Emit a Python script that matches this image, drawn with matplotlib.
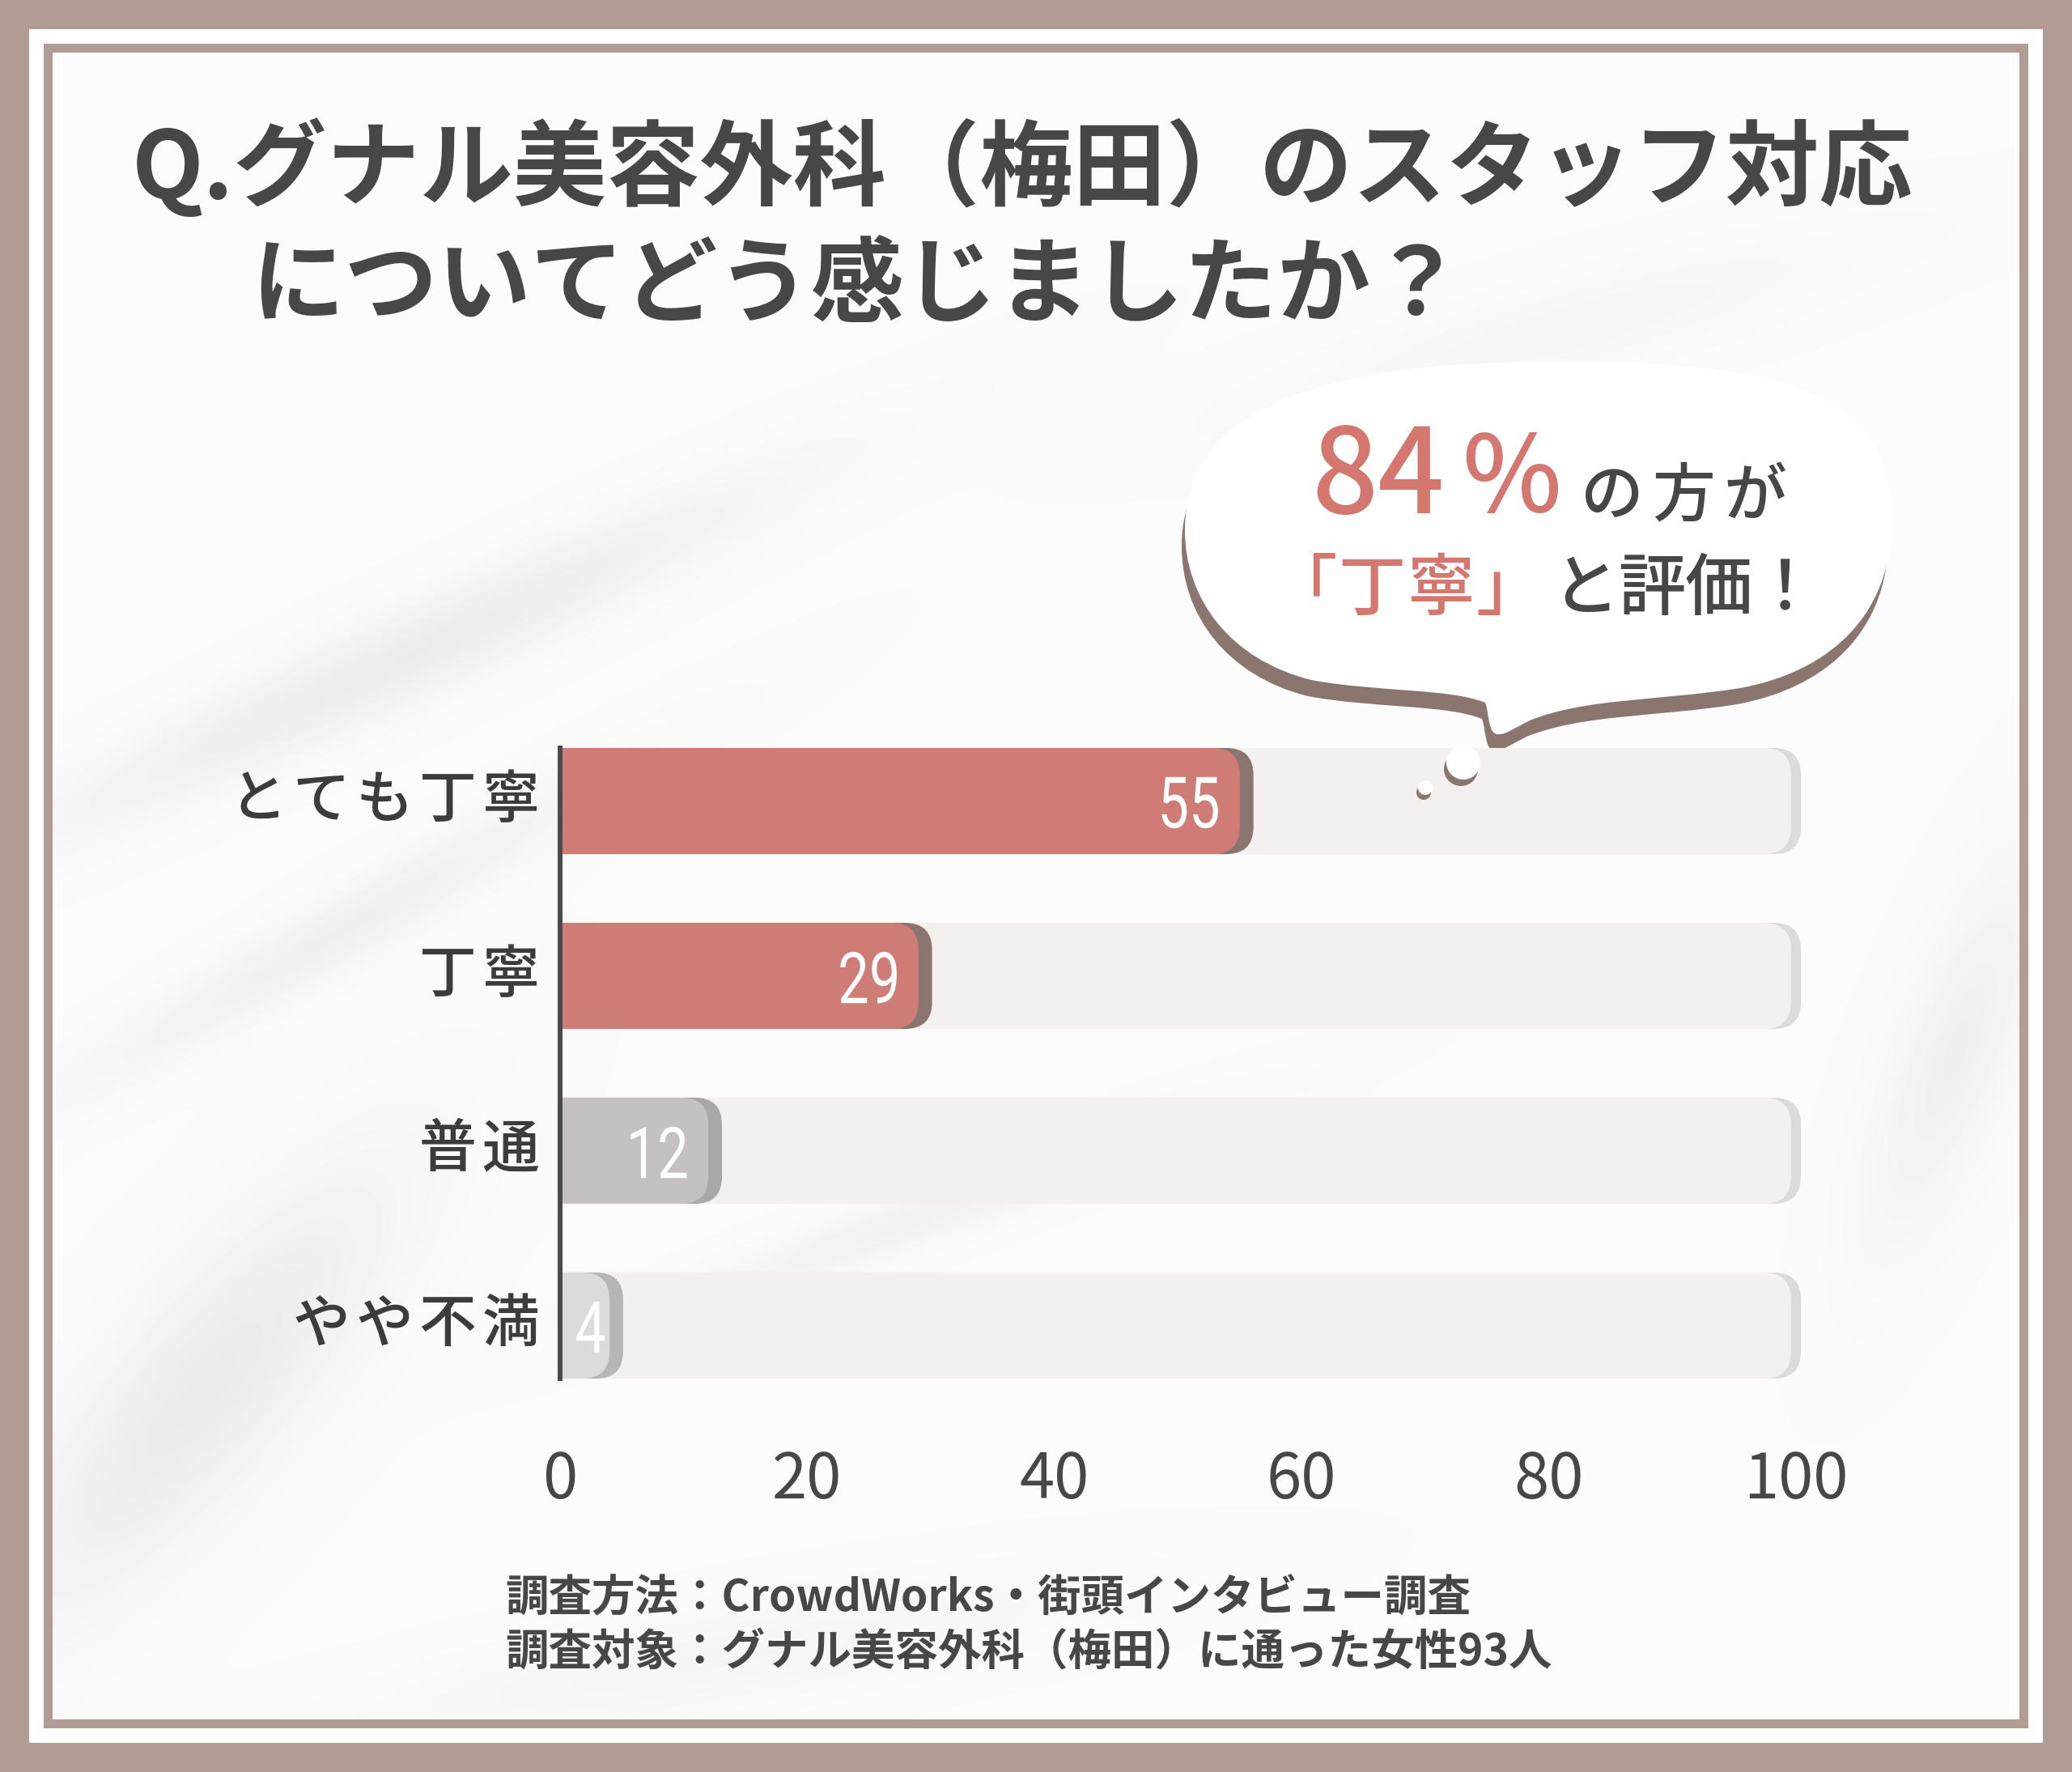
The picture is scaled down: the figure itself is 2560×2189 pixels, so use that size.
import matplotlib
matplotlib.use('Agg')
import numpy as np
import matplotlib.pyplot as plt
from matplotlib.patches import FancyBboxPatch, Rectangle, PathPatch, Circle
from matplotlib.path import Path
from matplotlib.textpath import TextPath
from matplotlib.font_manager import FontProperties
from matplotlib.transforms import Affine2D

plt.rcParams['font.family'] = ['Noto Sans CJK JP', 'DejaVu Sans']

# ---------------- data ----------------
categories = ['とても丁寧', '丁寧', '普通', 'やや不満']
values = [55, 29, 12, 4]
xticks = [0, 20, 40, 60, 80, 100]
title_line1 = 'Q.グナル美容外科（梅田）のスタッフ対応'
title_line2 = 'についてどう感じましたか？'
note_line1 = '調査方法：CrowdWorks・街頭インタビュー調査'
note_line2 = '調査対象：グナル美容外科（梅田）に通った女性93人'

# ---------------- styles ----------------
bar_colors = ['#cf7b76', '#cf7b76', '#c4c1c0', '#dcdadb']
shadow_colors = ['#8b766f', '#8b766f', '#a9a7a7', '#b7b5b5']
track_color = '#f3f0ef'
track_shadow = '#dcdada'
frame_color = '#b29b93'
text_dark = '#474747'
accent = '#d4776f'

W, H = 2560, 2189
fig = plt.figure(figsize=(W / 100, H / 100), dpi=100)
fig.patch.set_facecolor(frame_color)

# background / frame overlay in pixel coordinates
bg = fig.add_axes([0, 0, 1, 1], zorder=0)
bg.set_xlim(0, W)
bg.set_ylim(H, 0)
bg.axis('off')
bg.add_patch(Rectangle((36, 36), W - 72, H - 72, facecolor='white', edgecolor='none'))
bg.add_patch(Rectangle((54, 54), W - 108, H - 108, facecolor=frame_color, edgecolor='none'))

# soft marble-like texture of the inner panel (decorative)
gx = np.linspace(65, W - 65, 300)
gy = np.linspace(65, H - 65, 260)
GX, GY = np.meshgrid(gx, gy)
shade = np.zeros_like(GX)
smudges = [  # cx, cy, length, width, angle(deg), strength  (pixel space)
    (500, 810, 1000, 110, -25, 0.060),
    (420, 1150, 800, 90, -30, 0.045),
    (250, 1720, 700, 220, -50, 0.065),
    (1150, 1500, 700, 70, -20, 0.040),
    (2420, 1300, 500, 140, -70, 0.045),
    (1950, 400, 800, 120, -15, 0.020),
    (900, 2050, 900, 120, -10, 0.025),
]
for cx, cy, L, Wd, ang, a in smudges:
    t = np.deg2rad(ang)
    u = (GX - cx) * np.cos(t) + (GY - cy) * np.sin(t)
    v = -(GX - cx) * np.sin(t) + (GY - cy) * np.cos(t)
    shade += a * np.exp(-(u / (L / 2)) ** 2 - (v / (Wd / 2)) ** 2)
bg.imshow(1.0 - np.clip(shade, 0, 0.12) - 0.015, cmap='gray', vmin=0, vmax=1,
          extent=(65, W - 65, H - 65, 65), interpolation='bicubic', zorder=1, aspect='auto')

# titles
bg.text(163, 209, title_line1, fontsize=83, fontweight='bold', color=text_dark,
        ha='left', va='center', zorder=5)
bg.text(310, 356, title_line2, fontsize=83, fontweight='bold', color=text_dark,
        ha='left', va='center', zorder=5)


def spaced(axis, chars, x_first, pitch, y, **kw):
    for k, ch in enumerate(chars):
        axis.text(x_first + k * pitch, y, ch, ha='center', va='center', **kw)


# speech bubble
def bubble_path(dx=0, dy=0):
    pts = [
        (1900, 447),
        (2200, 445), (2337, 480), (2337, 645),
        (2337, 760), (2260, 830), (2150, 850),
        (2050, 866), (1960, 862), (1890, 890),
        (1870, 900), (1860, 908), (1850, 907),
        (1838, 906), (1840, 880), (1835, 868),
        (1790, 850), (1700, 855), (1620, 840),
        (1520, 815), (1464, 740), (1464, 655),
        (1464, 520), (1600, 449), (1900, 447),
    ]
    codes = [Path.MOVETO] + [Path.CURVE4] * (len(pts) - 1)
    pts = [(x + dx, y + dy) for x, y in pts]
    return Path(pts, codes)


bg.add_patch(PathPatch(bubble_path(-4, 20), facecolor='#8b766f', edgecolor='none', zorder=6))
bg.add_patch(PathPatch(bubble_path(), facecolor='white', edgecolor='none', zorder=7))

pct = values[0] + values[1]
bg.text(1620, 592, f'{pct}', fontsize=104, fontweight='medium', color=accent,
        ha='left', va='center', zorder=8)
bg.text(1806, 594, '%', fontsize=94, fontweight='medium', color=accent,
        ha='left', va='center', zorder=8)
spaced(bg, 'の方が', 1992, 88, 614, fontsize=56, fontweight='medium', color=text_dark, zorder=8)
spaced(bg, '「丁寧」', 1610, 85, 730, fontsize=60, fontweight='medium', color=accent, zorder=8)
spaced(bg, 'と評価！', 1959, 82, 730, fontsize=60, fontweight='medium', color=text_dark, zorder=8)

# footnote
bg.text(624, 1975, note_line1, fontsize=38.5, fontweight='bold', color=text_dark,
        ha='left', va='center', zorder=5)
bg.text(624, 2041, note_line2, fontsize=38.5, fontweight='bold', color=text_dark,
        ha='left', va='center', zorder=5)

# ---------------- chart ----------------
px_per_unit = 15.27
x0_px = 692
top_px, bot_px = 924, 1703
xmax = 102
ax_w_px = xmax * px_per_unit
ax = fig.add_axes([x0_px / W, 1 - bot_px / H, ax_w_px / W, (bot_px - top_px) / H],
                  zorder=1)
ax.patch.set_alpha(0)
half = 0.3035
ax.set_xlim(0, xmax)
ax.set_ylim(len(categories) - 1 + half, -half)

y_px_per_unit = (bot_px - top_px) / (len(categories) - 1 + 2 * half)
aspect = px_per_unit / y_px_per_unit
rs = 2.2

num_fp = FontProperties(family='Roboto', weight='regular')

for i, (v, c, sc) in enumerate(zip(values, bar_colors, shadow_colors)):
    ax.add_patch(FancyBboxPatch((-5, i - half), 105.4, 2 * half,
                                boxstyle=f'round,pad=0,rounding_size={rs}',
                                mutation_aspect=aspect, facecolor=track_shadow,
                                edgecolor='none', zorder=1))
    ax.add_patch(FancyBboxPatch((-5, i - half), 104.6, 2 * half,
                                boxstyle=f'round,pad=0,rounding_size={rs}',
                                mutation_aspect=aspect, facecolor=track_color,
                                edgecolor='none', zorder=1.1))
    ax.add_patch(FancyBboxPatch((-5, i - half), v + 5 + 1.1, 2 * half,
                                boxstyle=f'round,pad=0,rounding_size={rs}',
                                mutation_aspect=aspect, facecolor=sc,
                                edgecolor='none', zorder=1.5))
    ax.add_patch(FancyBboxPatch((-5, i - half), v + 5, 2 * half,
                                boxstyle=f'round,pad=0,rounding_size={rs}',
                                mutation_aspect=aspect, facecolor=c,
                                edgecolor='none', zorder=1.6))

    # condensed white value label, placed through the data transform
    tp = TextPath((0, 0), str(v), size=88, prop=num_fp)
    bb = tp.get_extents()
    sx = 0.78
    ink_w = (bb.x1 - bb.x0) * sx
    X, Y = ax.transData.transform((v, i))
    X0, _ = ax.transData.transform((0, i))
    right = max(X - 27, X0 + 20 + ink_w)
    tr = (Affine2D().translate(-bb.x1, -(bb.y0 + bb.y1) / 2).scale(sx, 1.0)
          .translate(right, Y - 2))
    ax.add_patch(PathPatch(tp, transform=tr, facecolor='white', edgecolor='none',
                           zorder=3, clip_on=False))

for s in ['top', 'right', 'bottom']:
    ax.spines[s].set_visible(False)
ax.spines['left'].set_color('#4a4a4a')
ax.spines['left'].set_linewidth(4.3)
ax.spines['left'].set_zorder(4)
ax.set_xticks([])
ax.set_yticks([])

# category labels (letter-spaced), right aligned near the axis
ytr = ax.get_yaxis_transform()
pitch = 78
last_center = 631
for i, cat in enumerate(categories):
    n = len(cat)
    for k, ch in enumerate(cat):
        xc = last_center - (n - 1 - k) * pitch
        ax.text((xc - x0_px) / ax_w_px, i, ch, transform=ytr, ha='center', va='center',
                fontsize=51, fontweight='medium', color='#3c3c3c', clip_on=False)

xtr = ax.get_xaxis_transform()
for t in xticks:
    ax.text(t, -(1851 - bot_px) / (bot_px - top_px), str(t), transform=xtr,
            ha='center', va='baseline', fontsize=56, color=text_dark, clip_on=False)

# small thought bubbles (decorative, in pixel coords, above chart)
ov = fig.add_axes([0, 0, 1, 1], zorder=5)
ov.set_xlim(0, W)
ov.set_ylim(H, 0)
ov.axis('off')
ov.add_patch(Circle((1805, 950), 21, facecolor='#8b766f', edgecolor='none'))
ov.add_patch(Circle((1808, 942), 21, facecolor='white', edgecolor='none'))
ov.add_patch(Circle((1759, 979), 9, facecolor='#8b766f', edgecolor='none'))
ov.add_patch(Circle((1761, 973), 9, facecolor='white', edgecolor='none'))

fig.savefig('out.png', dpi=100, facecolor=fig.get_facecolor())
